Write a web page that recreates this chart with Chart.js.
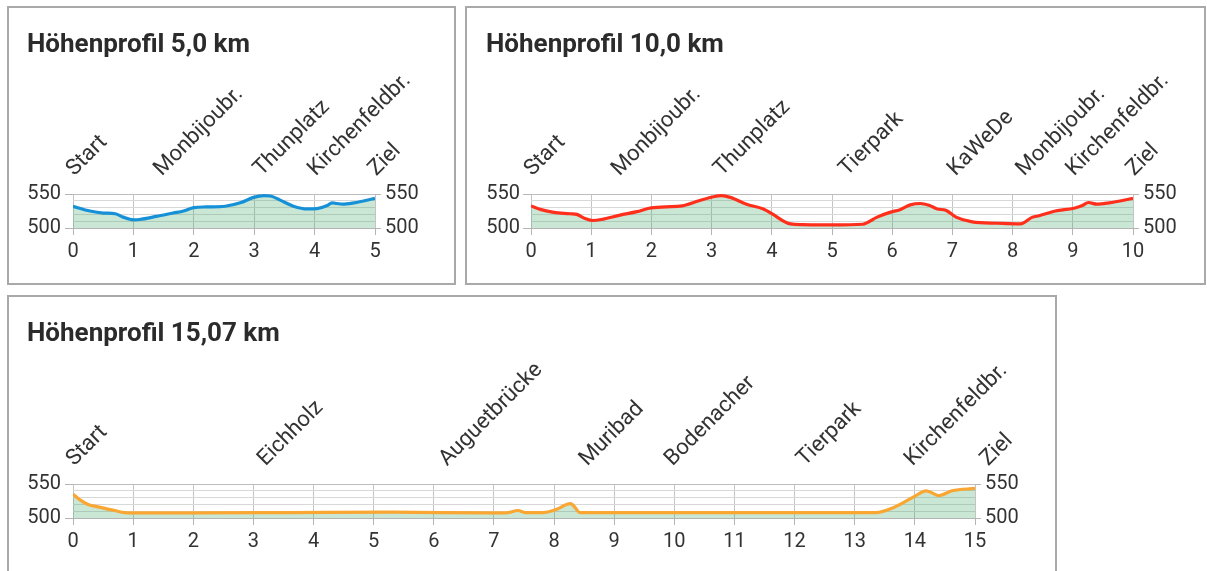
<!DOCTYPE html>
<html>
<head>
<meta charset="utf-8">
<script src="https://cdn.jsdelivr.net/npm/chart.js@4.4.1/dist/chart.umd.min.js"></script>
<style>
html, body { margin: 0; padding: 0; background: #fff; width: 1207px; height: 571px; overflow: hidden; }
.panel { position: absolute; box-sizing: border-box; border: 2px solid #a9a9a9; background: #fff; }
.panel canvas { position: absolute; left: 0; top: 0; }
</style>
</head>
<body>
<div class="panel" style="left:7px;top:6px;width:449px;height:279px"><canvas id="profil5" width="445" height="275"></canvas></div>
<div class="panel" style="left:465px;top:6px;width:741px;height:279px"><canvas id="profil10" width="737" height="275"></canvas></div>
<div class="panel" style="left:7px;top:295px;width:1050px;height:290px"><canvas id="profil15" width="1046" height="275"></canvas></div>
<script>
// 5,0 km
const km5 = [0, 0.28, 0.5, 0.7, 0.83, 1.0, 1.1, 1.38, 1.66, 1.83, 2.0, 2.21, 2.52, 2.77, 2.99, 3.16, 3.27, 3.43, 3.65, 3.88, 4.04, 4.21, 4.29, 4.37, 4.46, 4.65, 5.0];
const hoehe5 = [532, 525, 522, 521, 516, 512, 512.5, 517, 522, 525, 530, 531, 532, 537, 545, 547.5, 547, 541, 532, 528, 528.5, 533, 537, 536, 535, 537, 543.5];
const orte5 = ['Start', 'Monbijoubr.', 'Thunplatz', 'Kirchenfeldbr.', 'Ziel'];
const ortKm5 = [0, 1.45, 3.1, 4.0, 5.0];

// 10,0 km
const km10 = [0, 0.17, 0.38, 0.65, 0.76, 0.9, 1.03, 1.17, 1.48, 1.76, 1.96, 2.24, 2.51, 2.79, 3.03, 3.17, 3.31, 3.58, 3.86, 4.0, 4.31, 4.51, 5.0, 5.51, 5.75, 5.96, 6.13, 6.3, 6.47, 6.61, 6.75, 6.89, 7.06, 7.33, 7.75, 8.13, 8.33, 8.44, 8.71, 9.02, 9.16, 9.26, 9.4, 9.6, 10];
const hoehe10 = [532.5, 527, 523, 521, 520, 514, 511, 512.5, 519, 524, 529, 531, 532.5, 540, 546, 547.5, 545, 535, 528, 521, 506, 505, 504.5, 505.5, 516, 523, 527, 534, 536, 533.5, 528, 526, 516, 509, 507, 506, 516, 518, 525, 529, 533, 537.5, 535, 537, 543.5];
const orte10 = ['Start', 'Monbijoubr.', 'Thunplatz', 'Tierpark', 'KaWeDe', 'Monbijoubr.', 'Kirchenfeldbr.', 'Ziel'];
const ortKm10 = [0, 1.45, 3.15, 5.23, 7.03, 8.17, 9.0, 10.0];

// 15,07 km
const km15 = [0, 0.11, 0.25, 0.44, 0.69, 0.86, 1.16, 2.0, 3.65, 5.3, 6.96, 7.2, 7.4, 7.52, 7.82, 8.02, 8.27, 8.32, 8.43, 9.07, 13.35, 13.65, 13.98, 14.19, 14.4, 14.62, 15.0];
const hoehe15 = [535, 527, 520, 516, 511, 508, 507.5, 507.5, 508, 508.5, 507.5, 507.5, 511, 508, 508, 512, 521, 518.5, 508, 508, 508, 515.5, 531, 540, 533, 540, 543.5];
const orte15 = ['Start', 'Eichholz', 'Auguetbrücke', 'Muribad', 'Bodenacher', 'Tierpark', 'Kirchenfeldbr.', 'Ziel'];
const ortKm15 = [0, 3.18, 6.2, 8.53, 9.95, 12.15, 13.94, 15.2];

Chart.defaults.font.family = "Roboto, 'Liberation Sans', sans-serif";
Chart.defaults.color = '#333';

const major = v => v % 50 === 0;

function profil(id, titel, km, hoehe, farbe, maxKm, orte, ortKm, box) {
    const ctx = document.getElementById(id).getContext('2d');
    return new Chart(ctx, {
        type: 'line',
        data: {
            datasets: [{
                data: km.map((x, i) => ({ x: x, y: hoehe[i] })),
                borderColor: farbe,
                borderWidth: 3.2,
                backgroundColor: 'rgba(60,170,100,0.28)',
                fill: 'start',
                pointRadius: 0,
                cubicInterpolationMode: 'monotone'
            }]
        },
        options: {
            responsive: false,
            animation: false,
            layout: { padding: { left: box.titleX } },
            plugins: {
                legend: { display: false },
                tooltip: { enabled: false },
                title: {
                    display: true,
                    text: titel,
                    align: 'start',
                    color: '#2b2b2b',
                    font: { size: 26, weight: 'bold' },
                    padding: { top: 22, bottom: 0 }
                }
            },
            scales: {
                x: {
                    type: 'linear',
                    min: 0,
                    max: maxKm,
                    ticks: { stepSize: 1, padding: 5, font: { size: 20 }, color: '#333' },
                    grid: { color: '#c4c4c4', tickLength: 7, tickColor: '#b4b4b4' },
                    border: { color: '#b4b4b4' },
                    afterFit: s => { s.height = box.bottom; }
                },
                oben: {
                    axis: 'x',
                    type: 'linear',
                    position: 'top',
                    min: 0,
                    max: maxKm,
                    grid: { display: false, drawTicks: false },
                    border: { display: false },
                    ticks: {
                        autoSkip: false,
                        minRotation: 45,
                        maxRotation: 45,
                        padding: 12,
                        labelOffset: 16,
                        font: { size: 22 },
                        color: '#333',
                        callback: (v, i) => orte[i]
                    },
                    afterBuildTicks: s => { s.ticks = ortKm.map(v => ({ value: v })); },
                    afterFit: s => { s.height = box.top - 53.2; }
                },
                y: {
                    position: 'left',
                    min: 500,
                    max: 550,
                    ticks: { stepSize: 10, autoSkip: false, padding: box.tickPad, font: { size: 20 }, color: '#333',
                        callback: v => major(v) ? v : '' },
                    grid: {
                        color: c => major(c.tick.value) ? '#bdbdbd' : '#d8d8d8',
                        tickLength: 8,
                        tickColor: c => major(c.tick.value) ? '#b4b4b4' : 'rgba(0,0,0,0)'
                    },
                    border: { display: false },
                    afterFit: s => { s.width = box.left - box.titleX; }
                },
                y2: {
                    position: 'right',
                    min: 500,
                    max: 550,
                    ticks: { stepSize: 10, autoSkip: false, padding: 4, font: { size: 20 }, color: '#333',
                        callback: v => major(v) ? v : '' },
                    grid: {
                        drawOnChartArea: false,
                        tickLength: 6,
                        tickColor: c => major(c.tick.value) ? '#b4b4b4' : 'rgba(0,0,0,0)'
                    },
                    border: { display: false },
                    afterFit: s => { s.width = box.right; }
                }
            }
        }
    });
}

profil('profil5', 'Höhenprofil 5,0 km', km5, hoehe5, '#1690d6', 5, orte5, ortKm5,
    { titleX: 18, tickPad: 4, left: 64, right: 79, top: 186, bottom: 55 });
profil('profil10', 'Höhenprofil 10,0 km', km10, hoehe10, '#ff2f1c', 10, orte10, ortKm10,
    { titleX: 19, tickPad: 3, left: 64, right: 71, top: 186, bottom: 55 });
profil('profil15', 'Höhenprofil 15,07 km', km15, hoehe15, '#f9a633', 15, orte15, ortKm15,
    { titleX: 18, tickPad: 4, left: 64, right: 80, top: 187, bottom: 54 });
</script>
</body>
</html>
